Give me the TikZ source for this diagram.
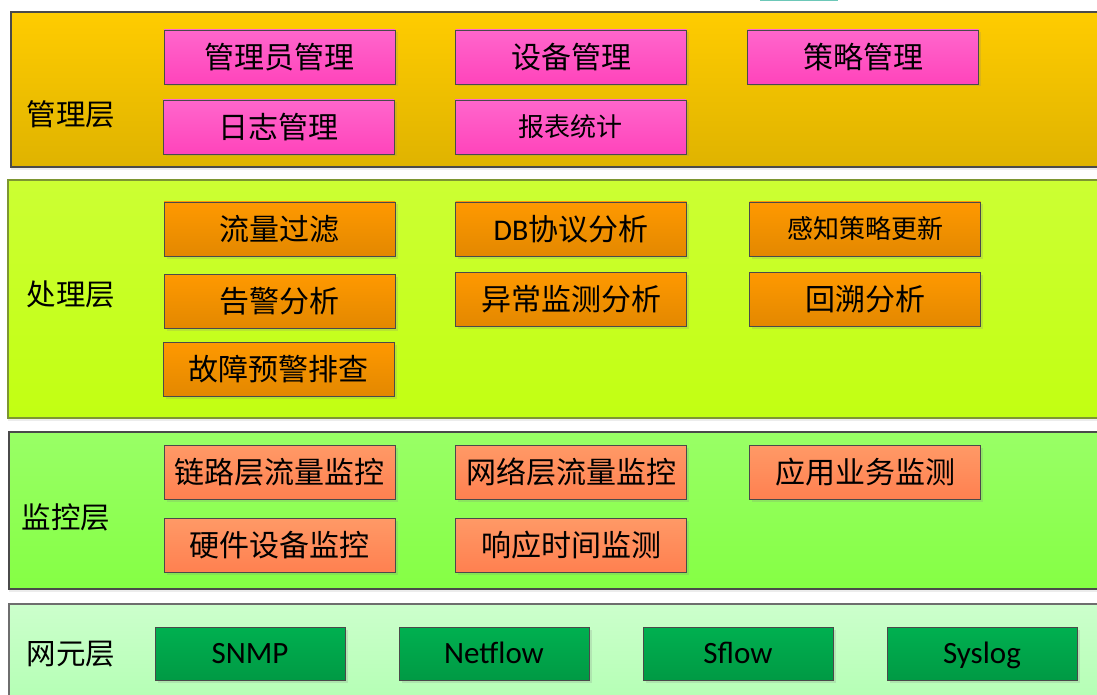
\documentclass[tikz,border=0pt]{standalone}
\usepackage{fontspec}
\newfontfamily\cjk{Noto Sans CJK SC}
\newfontfamily\lat{Carlito}
\usetikzlibrary{shadows}
\definecolor{bandAt}{HTML}{FFCC00}
\definecolor{bandAb}{HTML}{DFB300}
\definecolor{bandBt}{HTML}{CCFF33}
\definecolor{bandBb}{HTML}{C2FF12}
\definecolor{bandCt}{HTML}{99FF66}
\definecolor{bandCb}{HTML}{85FF44}
\definecolor{bandDt}{HTML}{CCFFCC}
\definecolor{bandDb}{HTML}{B2FFB2}
\definecolor{pinkT}{HTML}{FF66CC}
\definecolor{pinkB}{HTML}{FF44BB}
\definecolor{oraT}{HTML}{FF9900}
\definecolor{oraB}{HTML}{E38800}
\definecolor{salT}{HTML}{FF9966}
\definecolor{salB}{HTML}{FF8050}
\definecolor{grnT}{HTML}{00B050}
\definecolor{grnB}{HTML}{009A44}
\definecolor{edge}{HTML}{4A4A4A}
\definecolor{oliveedge}{HTML}{7D9632}
\definecolor{grayedge}{HTML}{6E6E6E}
\definecolor{tealbit}{HTML}{6CC8B8}
\tikzset{
  band/.style={draw=#1, line width=1.2pt, drop shadow={shadow xshift=0pt, shadow yshift=-3pt, opacity=0.15}},
  layerlabel/.style={font=\cjk\fontsize{29.5}{34}\selectfont, text=black},
  box/.style={draw=edge, line width=0.8pt, minimum width=231pt, minimum height=54pt, inner sep=0pt,
    font=\cjk\fontsize{30}{34}\selectfont, text=black,
    drop shadow={shadow xshift=2.5pt, shadow yshift=-2.5pt, opacity=0.2}},
  pinkbox/.style={box, top color=pinkT, bottom color=pinkB},
  orabox/.style={box, top color=oraT, bottom color=oraB},
  salbox/.style={box, top color=salT, bottom color=salB},
  grnbox/.style={box, top color=grnT, bottom color=grnB, minimum width=190pt, minimum height=53pt,
    font=\lat\fontsize{31}{36}\selectfont, text height=20pt, text depth=0pt},
  small/.style={font=\cjk\fontsize{26}{30}\selectfont}
}
\begin{document}
\begin{tikzpicture}[x=1pt,y=-1pt]
\useasboundingbox (0,0) rectangle (1097,695);
\fill[white] (0,0) rectangle (1097,695);
\begin{scope}
\clip (0,0) rectangle (1097,695);
\fill[tealbit] (760,-3) rectangle (838,1.5);
% bands
\path[band=edge, top color=bandAt, bottom color=bandAb] (11,12) rectangle (1110,167);
\path[band=oliveedge, top color=bandBt, bottom color=bandBb] (8,180) rectangle (1110,418);
\path[band=edge, top color=bandCt, bottom color=bandCb] (9,432) rectangle (1110,589);
\path[band=grayedge, top color=bandDt, bottom color=bandDb] (9,604) rectangle (1110,710);
\end{scope}
% layer labels
\node[layerlabel] (lA) at (71,114) {管理层};
\node[layerlabel] (lB) at (71,294) {处理层};
\node[layerlabel] (lC) at (66,517) {监控层};
\node[layerlabel] (lD) at (71,654) {网元层};
% management layer
\node[pinkbox] (a1) at (279.5,57) {管理员管理};
\node[pinkbox] (a2) at (571,57) {设备管理};
\node[pinkbox] (a3) at (863,57) {策略管理};
\node[pinkbox] (a4) at (278.5,127) {日志管理};
\node[pinkbox, small] (a5) at (570.5,127) {报表统计};
% processing layer
\node[orabox] (b1) at (279.5,229) {流量过滤};
\node[orabox] (b2) at (571,229) {{\lat DB}协议分析};
\node[orabox, small] (b3) at (865,229) {感知策略更新};
\node[orabox] (b4) at (279.5,301) {告警分析};
\node[orabox] (b5) at (571,299) {异常监测分析};
\node[orabox] (b6) at (865,299) {回溯分析};
\node[orabox] (b7) at (278.5,369) {故障预警排查};
% monitoring layer
\node[salbox] (c1) at (279.5,472.5) {链路层流量监控};
\node[salbox] (c2) at (571,472.5) {网络层流量监控};
\node[salbox] (c3) at (865,472.5) {应用业务监测};
\node[salbox] (c4) at (279.5,545.5) {硬件设备监控};
\node[salbox] (c5) at (571,545) {响应时间监测};
% network element layer
\node[grnbox] (d1) at (250,653.5) {SNMP};
\node[grnbox] (d2) at (494,653.5) {Netflow};
\node[grnbox] (d3) at (738,653.5) {Sflow};
\node[grnbox] (d4) at (982,653.5) {Syslog};
\end{tikzpicture}
\end{document}
